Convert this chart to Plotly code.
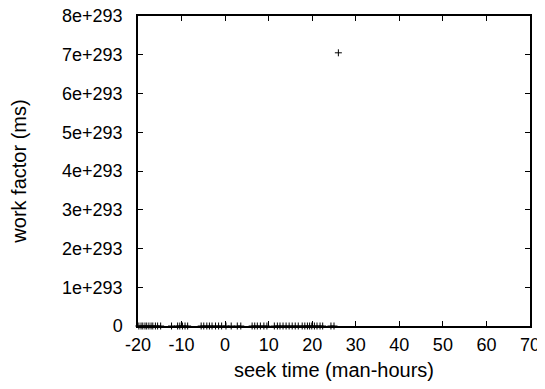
import plotly.graph_objects as go

x_low = [-19.8, -19.3, -18.9, -18.4, -18.0, -17.5, -17.0, -16.6, -16.0, -15.5, -14.8,
         -12.3, -10.9, -10.4, -9.8, -9.2, -8.6,
         -5.5, -4.9, -4.2, -3.6, -3.0, -2.2, -1.5, -0.8, 0.2, 1.4, 2.8, 3.6,
         6.2, 6.8, 7.4, 8.1, 8.9, 9.6,
         11.3, 12.0, 12.6, 13.3, 14.0, 14.7, 15.4, 16.1, 16.8,
         17.7, 18.3, 18.9, 19.4, 19.9, 20.5, 21.1, 21.8, 22.4, 24.3, 25.0]
y_low = [0.0] * len(x_low)
x_out = [26.0]
y_out = [7.05e293]

x_ticks = [-20, -10, 0, 10, 20, 30, 40, 50, 60, 70]
x_ticktext = ["-20", "-10", "0", "10", "20", "30", "40", "50", "60", "70"]
y_ticks = [0, 1e293, 2e293, 3e293, 4e293, 5e293, 6e293, 7e293, 8e293]
y_ticktext = ["0", "1e+293", "2e+293", "3e+293", "4e+293", "5e+293", "6e+293", "7e+293", "8e+293"]

xs = x_low + x_out
ys = y_low + y_out

fig = go.Figure()
fig.add_trace(go.Scatter(
    x=xs, y=ys, mode="markers",
    marker=dict(symbol="cross-thin", size=5, color="black",
                line=dict(color="black", width=1)),
    cliponaxis=False, showlegend=False,
))

tick_font = dict(family="Liberation Sans, Arial, sans-serif", size=18, color="black")
title_font = dict(family="Liberation Sans, Arial, sans-serif", size=20, color="black")
fig.update_layout(
    width=537, height=381,
    margin=dict(l=129.5, r=15, t=8, b=63),
    plot_bgcolor="white", paper_bgcolor="white",
    font=tick_font,
)
fig.update_xaxes(
    range=[-20, 70], tickvals=x_ticks, ticktext=x_ticktext, tickfont=tick_font,
    ticks="inside", ticklen=5, automargin=False, ticklabelstandoff=2,
    ticklabeloverflow="allow",
    showline=True, linecolor="black", linewidth=1.5, mirror="allticks",
    showgrid=False, zeroline=False, tickcolor="black",
    title=dict(text="seek time (man-hours)", font=title_font, standoff=8.5),
)
fig.update_yaxes(
    range=[0, 8e293], tickvals=y_ticks, ticktext=y_ticktext, tickfont=tick_font,
    ticks="inside", ticklen=5, automargin=False, ticklabelstandoff=10,
    ticklabeloverflow="allow",
    showline=True, linecolor="black", linewidth=1.5, mirror="allticks",
    showgrid=False, zeroline=False, tickcolor="black",
    title=dict(text="work factor (ms)", font=title_font, standoff=36),
)
fig.write_html("out.html")
